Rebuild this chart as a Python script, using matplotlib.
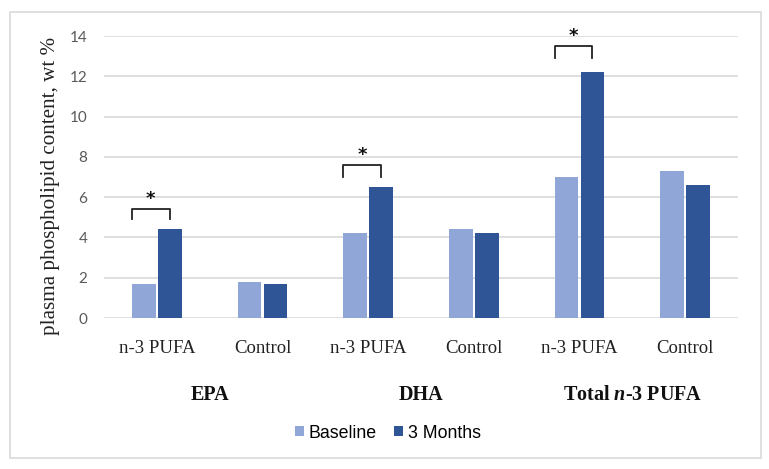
import matplotlib
matplotlib.use("Agg")
import matplotlib.pyplot as plt
from matplotlib.patches import Rectangle
import numpy as np

plt.rcParams['mathtext.fontset'] = 'custom'
plt.rcParams['mathtext.rm'] = 'Liberation Serif'
plt.rcParams['mathtext.it'] = 'Liberation Serif:italic'
plt.rcParams['mathtext.bf'] = 'Liberation Serif:bold'
plt.rcParams['mathtext.bfit'] = 'Liberation Serif:bold:italic'

categories = ["n-3 PUFA", "Control", "n-3 PUFA", "Control", "n-3 PUFA", "Control"]
groups = ["EPA", "DHA", r"Total $\mathbfit{n}$-3 PUFA"]
baseline = [1.7, 1.8, 4.2, 4.4, 7.0, 7.3]
months3 = [4.4, 1.7, 6.5, 4.2, 12.2, 6.6]
series_names = ["Baseline", "3 Months"]
# significance brackets: category index, bracket top, bracket leg bottom
sig_idx = [0, 2, 4]
sig_top = [5.4, 7.6, 13.5]
sig_bot = [4.9, 7.0, 12.9]
yticks = [0, 2, 4, 6, 8, 10, 12, 14]

c_base = "#8FA6D6"
c_3m = "#2F5597"

W, H = 769, 469
fig = plt.figure(figsize=(W/100, H/100), dpi=100)
fig.patches.append(Rectangle((10/W, 1-458/H), 751/W, 446/H, transform=fig.transFigure,
                             fill=False, edgecolor="#D9D9D9", linewidth=1.2))
ax = fig.add_axes([104/W, 1-318/H, 634/W, 282/H])

x = np.arange(len(categories))
bw = 0.227
off = 0.123
ax.bar(x - off, baseline, bw, color=c_base, label=series_names[0], zorder=3)
ax.bar(x + off, months3, bw, color=c_3m, label=series_names[1], zorder=3)

ax.set_xlim(-0.5, 5.5)
ax.set_ylim(0, 14)
ax.set_yticks(yticks)
ax.yaxis.grid(True, color="#D9D9D9", linewidth=1.2, zorder=0)
ax.set_axisbelow(True)
for s in ax.spines.values():
    s.set_visible(False)
ax.tick_params(axis='y', length=0, labelsize=11, labelcolor="#595959", pad=12)
for t in ax.get_yticklabels():
    t.set_family("Lato")
ax.set_xticks(x)
ax.set_xticklabels(categories, family="Liberation Serif", fontsize=13.5, color="#222222")
ax.tick_params(axis='x', length=0, pad=15.5)
ax.set_ylabel("plasma phospholipid content, wt %", family="Liberation Serif",
              fontsize=15.2, color="#222222")
ax.yaxis.label.set_va('center')
ax.yaxis.set_label_coords((51-104)/634, (318-186)/282)

for gi, g in enumerate(groups):
    ax.text(2*gi + 0.5, -77/282*14, g, ha='center', va='center', family="Liberation Serif",
            fontsize=14.5, fontweight='bold', color="#111111", clip_on=False)

for i, top, bot in zip(sig_idx, sig_top, sig_bot):
    xl = i - off - bw/2
    xr = i + off
    ax.plot([xl, xl, xr, xr], [bot, top, top, bot], color="#222222", linewidth=1.3, zorder=4)
    ax.text((xl+xr)/2, top + 0.5, "*", ha='center', va='center', fontsize=13,
            fontweight='bold', family="DejaVu Sans", color="#111111")

fig.legend(loc='center', bbox_to_anchor=(388/W, 1-433/H), ncol=2, frameon=False,
           handlelength=0.5, handleheight=0.5, handletextpad=0.25, columnspacing=1.0,
           prop={'family': 'Liberation Sans', 'size': 12.8})

fig.savefig("out.png", dpi=100, facecolor="white")
